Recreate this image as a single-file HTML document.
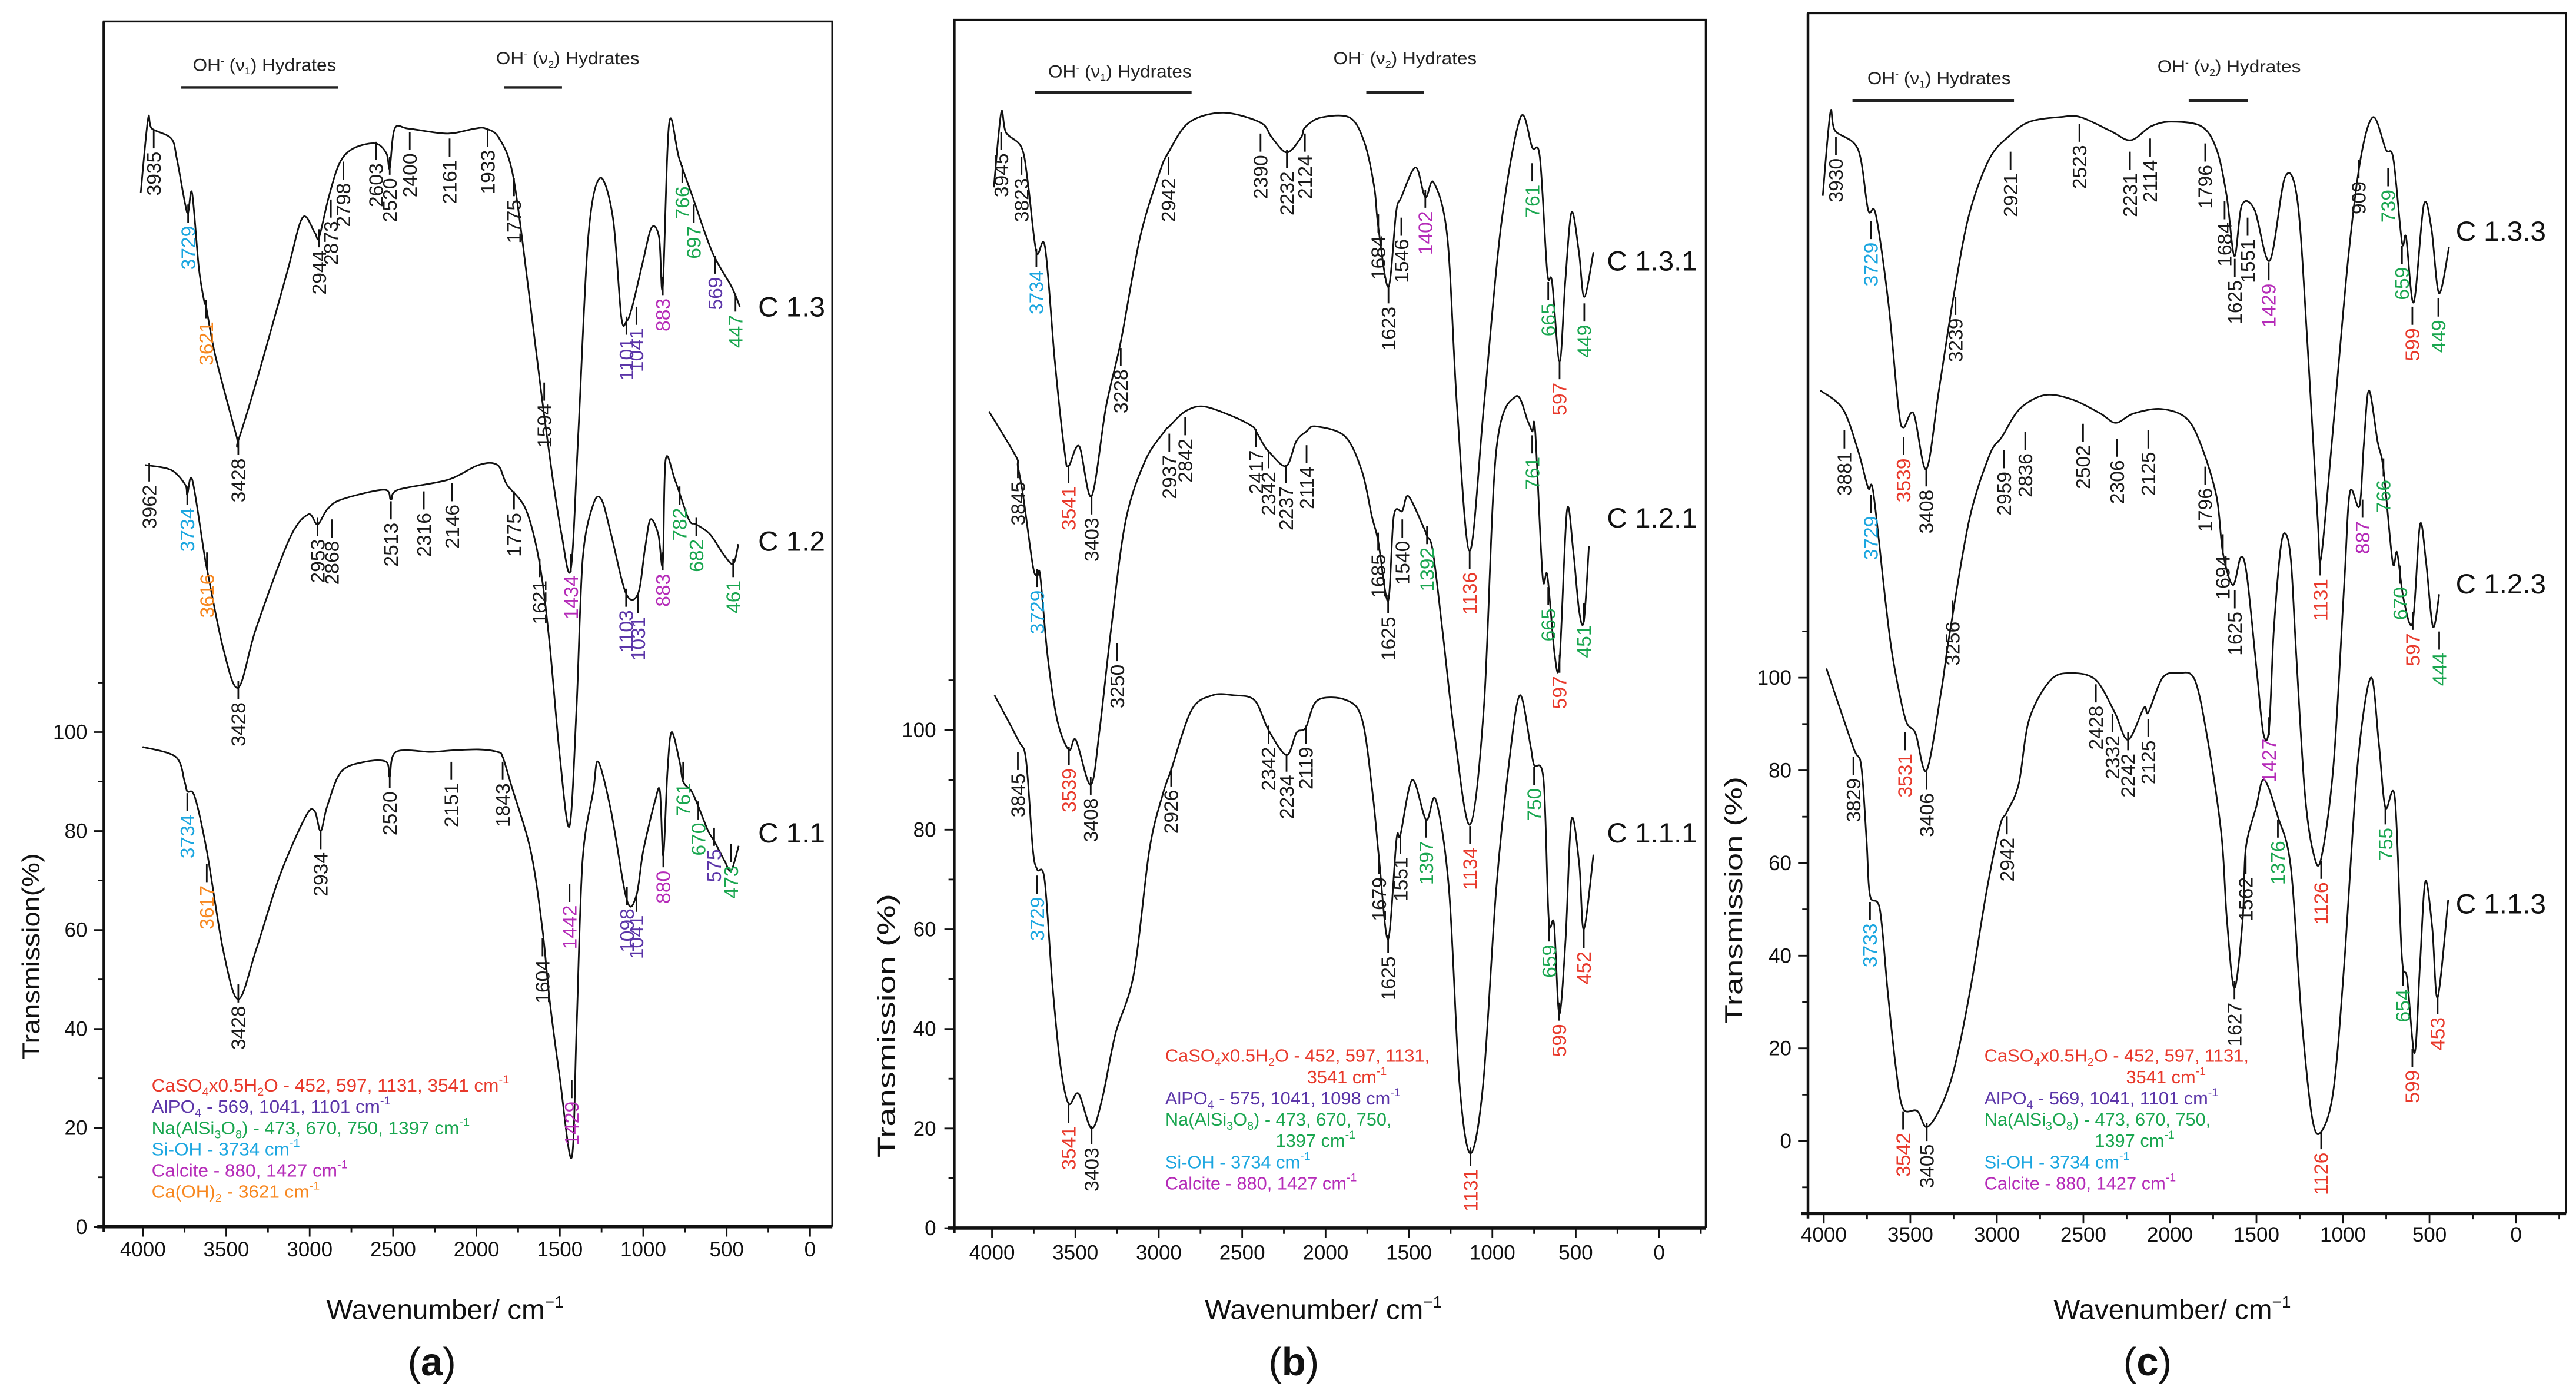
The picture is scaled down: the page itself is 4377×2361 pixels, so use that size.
<!DOCTYPE html>
<html><head><meta charset="utf-8"><title>FTIR spectra</title>
<style>
html,body{margin:0;padding:0;background:#fff;}
svg{display:block;}
text{font-family:"Liberation Sans",sans-serif;}
</style></head>
<body>
<svg id="fig" xmlns="http://www.w3.org/2000/svg" width="4377" height="2361" viewBox="0 0 1563 843" preserveAspectRatio="none"></svg>
<script>
// ---------- data (wavenumber cm-1, transmission %) ----------
const wnA13=[4013,3969,3946,3830,3797,3748,3729,3705,3665,3632,3621,3565,3440,3428,3301,3135,3043,2970,2944,2887,2821,2738,2606,2540,2520,2490,2407,2175,2011,1944,1863,1778,1679,1613,1546,1490,1434,1390,1330,1260,1182,1132,1101,1066,1003,950,905,883,845,785,702,586,470,421];
const tA13=[209,224,222,220,216,207,205,209,194,187,186,176,160,159,173,193,204,201,200,208,215,218,219,217,214,222,222,221,222,222,220,212,187,169,152,140,133,160,200,212,204,184,183,186,195,202,200,190,223,216,208,197,190,186];
const wnA12=[3987,3831,3746,3734,3704,3632,3616,3519,3428,3321,3122,3009,2953,2895,2811,2554,2513,2469,2172,1987,1874,1817,1704,1621,1562,1500,1442,1400,1363,1300,1250,1193,1103,1031,990,957,910,883,866,810,727,682,600,520,461,430];
const tA12=[154,153,150,148,151,136,133,117,109,121,139,144,142,145,147,149,147,149,151,154,154,150,145,134,118,95,81,105,135,146,147,140,128,128,137,143,140,134,155,151,143,142,140,136,134,138];
const wnA11=[4002,3803,3750,3734,3690,3617,3519,3428,3321,3179,3023,2970,2934,2895,2811,2668,2541,2520,2483,2271,2151,1987,1874,1843,1789,1675,1604,1562,1500,1429,1400,1364,1300,1270,1193,1098,1041,1000,930,900,880,855,830,782,761,710,670,611,575,513,473,428];
const tA11=[97,95,90,88,87,76,56,46,56,71,83,84,80,85,92,94,94,91,96,96,96.3,96.5,96,95,89,76,60,46,30,14,40,74,88,94,84,66,67,76,86,88,75,92,100,94,90,88,85,80,78,74,72,77];
const wnB131=[3989,3945,3916,3823,3785,3734,3682,3623,3565,3541,3477,3403,3316,3228,3112,2995,2942,2820,2615,2390,2322,2232,2147,2124,2030,1855,1767,1708,1684,1623,1577,1546,1460,1402,1352,1270,1212,1136,1051,949,832,761,715,671,642,597,563,525,481,449,394];
const tB131=[209,224,220,217,210,196,197,174,156,153,157,147,165,178,199,212,216,222,224,222,219,216,219,221,223,223,218,209,201,189,204,207,213,207,210,199,165,136,165,201,223,217,215,192,190,174,190,204,196,187,196];
const wnB121=[4018,3857,3845,3813,3755,3729,3711,3667,3609,3539,3497,3408,3355,3287,3199,3083,2966,2937,2842,2732,2556,2439,2417,2366,2342,2237,2176,2114,2059,1884,1782,1723,1685,1625,1591,1540,1504,1416,1392,1357,1299,1230,1134,1050,977,860,787,761,743,699,670,626,597,553,515,480,451,421];
const tB121=[164,155,153,147,133,131,131,115,102,96,98,89,100,120,142,154,160,161,164,165,163,161,160,157,156,153,158,160,161,159,152,143,138,126,143,144,147,141,139,136,120,100,81,105,156,167,162,160,160,131,131,115,114,144,136,124,122,137];
const wnB111=[3985,3843,3796,3755,3729,3685,3638,3591,3541,3481,3403,3339,3260,3150,3056,2977,2926,2804,2678,2552,2426,2342,2234,2174,2119,2048,1874,1780,1717,1679,1625,1575,1551,1480,1397,1339,1260,1197,1131,1055,977,898,835,772,750,693,662,630,599,561,526,479,452,394];
const tB111=[107,98,94,76,72,70,49,33,25,27,20,26,39,51,76,87,92,104,107,107,106,100,95,99.5,100.5,106,106,102,87,74,58,78,79,90,82,86,68,29,15,29,68,94,107,97,93,90,62,61,43,58,82,73,60,75];
const wnC133=[4006,3962,3934,3802,3744,3700,3627,3568,3539,3481,3408,3335,3247,3160,3043,2926,2810,2635,2518,2343,2226,2109,1993,1818,1730,1672,1627,1584,1511,1423,1335,1263,1205,1146,1126,1059,971,898,825,752,709,659,635,591,533,489,445,387];
const tC133=[204,222,218,214,201,200,181,158,154,157,145,162,183,200,212,217,220,221,221,218,216,219,220,219,214,204,191,202,201,190,208,203,172,134,126,153,190,212,221,214,212,194,195,181,202,197,183,193];
const wnC123=[4020,3890,3802,3744,3714,3642,3600,3528,3470,3406,3322,3275,3160,3043,2970,2868,2722,2561,2401,2313,2211,2051,1905,1818,1730,1694,1636,1590,1555,1497,1460,1427,1400,1360,1330,1300,1270,1220,1170,1126,1055,993,960,905,880,850,800,766,713,687,650,597,555,520,480,444];
const tC123=[162,158,149,141,140,116,104,91,88,80,97,109,134,148,152,158,161,160,157,155,157,158,156,150,139,127,120,126,122,101,88,89,110,128,131,125,105,75,62,61,81,120,140,137,150,162,151,145,125,127,117,112,133,125,111,118];
const wnC113=[3985,3830,3784,3753,3733,3676,3630,3584,3542,3460,3405,3322,3244,3152,3059,2982,2942,2874,2813,2689,2566,2428,2319,2242,2150,2125,2042,1949,1856,1779,1702,1671,1627,1579,1562,1502,1456,1376,1301,1240,1178,1126,1055,993,916,839,793,755,700,660,629,586,555,524,484,453,392];
const tC113=[102,85,81,65,53,50,32,16,7,6.5,3,7.5,16,33,54,68,71,77,91,99.5,101,99.5,92.5,86.6,93.5,92.5,100,101,99.5,86,66,48,33,48,63,72,78,70,59,27,5,2,11,38,81,100,86,72,74,40,35,19,38,56,46,31,52];
const xTickVals=[4000,3500,3000,2500,2000,1500,1000,500,0];
const yTickVals=[0,20,40,60,80,100];

// peak labels: [text, wavenumber, labelTopY, colorKey]
const labA=[["3935",3935,92,"k"],["3729",3729,137,"c"],["3621",3621,195,"o"],["3428",3428,278,"k"],["2944",2944,152,"k"],["2873",2873,134,"k"],["2798",2798,111,"k"],["2603",2603,99,"k"],["2520",2520,108,"k"],["2400",2400,93,"k"],["2161",2161,97,"k"],["1933",1933,91,"k"],["1775",1775,121,"k"],["1594",1594,245,"k"],["1101",1101,205,"p"],["1041",1041,199,"p"],["883",883,181,"m"],["766",766,113,"g"],["697",697,137,"g"],["569",569,168,"p"],["447",447,191,"g"],
["3962",3962,294,"k"],["3734",3734,308,"c"],["3616",3616,348,"o"],["3428",3428,426,"k"],["2953",2953,327,"k"],["2868",2868,328,"k"],["2513",2513,317,"k"],["2316",2316,311,"k"],["2146",2146,306,"k"],["1775",1775,311,"k"],["1621",1621,352,"k"],["1434",1434,349,"m"],["1103",1103,370,"p"],["1031",1031,374,"p"],["883",883,348,"m"],["782",782,308,"g"],["682",682,327,"g"],["461",461,352,"g"],
["3734",3734,494,"c"],["3617",3617,537,"o"],["3428",3428,610,"k"],["2934",2934,517,"k"],["2520",2520,480,"k"],["2151",2151,475,"k"],["1843",1843,475,"k"],["1604",1604,582,"k"],["1442",1442,549,"m"],["1098",1098,551,"p"],["1041",1041,555,"p"],["880",880,528,"m"],["761",761,475,"g"],["670",670,499,"g"],["575",575,515,"p"],["473",473,525,"g"],["1429",1429,668,"m"]];
const labB=[["3945",3945,93,"k"],["3823",3823,108,"k"],["3734",3734,164,"c"],["3541",3541,295,"r"],["3403",3403,314,"k"],["3228",3228,224,"k"],["2942",2942,108,"k"],["2390",2390,94,"k"],["2232",2232,104,"k"],["2124",2124,94,"k"],["1684",1684,143,"k"],["1623",1623,186,"k"],["1546",1546,145,"k"],["1402",1402,128,"m"],["1136",1136,347,"r"],["761",761,112,"g"],["665",665,184,"g"],["597",597,232,"r"],["449",449,197,"g"],
["3845",3845,292,"k"],["3729",3729,358,"c"],["2937",2937,276,"k"],["2842",2842,266,"k"],["2417",2417,273,"k"],["2342",2342,286,"k"],["2237",2237,295,"k"],["2114",2114,283,"k"],["1685",1685,336,"k"],["1625",1625,374,"k"],["1540",1540,328,"k"],["1392",1392,332,"g"],["761",761,277,"g"],["665",665,369,"g"],["451",451,379,"g"],["597",597,410,"r"],["3250",3250,403,"k"],["3539",3539,466,"r"],["3408",3408,484,"k"],
["3845",3845,469,"k"],["3729",3729,544,"c"],["3541",3541,683,"r"],["3403",3403,696,"k"],["2926",2926,479,"k"],["2342",2342,453,"k"],["2234",2234,470,"k"],["2119",2119,453,"k"],["1679",1679,532,"k"],["1625",1625,580,"k"],["1551",1551,520,"k"],["1397",1397,510,"g"],["1134",1134,514,"r"],["1131",1131,709,"r"],["750",750,478,"g"],["659",659,573,"g"],["599",599,621,"r"],["452",452,577,"r"]];
const labC=[["3930",3930,96,"k"],["3729",3729,147,"c"],["3539",3539,278,"r"],["3408",3408,297,"k"],["3239",3239,193,"k"],["2921",2921,105,"k"],["2523",2523,88,"k"],["2231",2231,105,"k"],["2114",2114,97,"k"],["1796",1796,100,"k"],["1684",1684,135,"k"],["1625",1625,170,"k"],["1551",1551,145,"k"],["1429",1429,172,"m"],["909",909,110,"k"],["739",739,115,"g"],["659",659,162,"g"],["599",599,199,"r"],["449",449,194,"g"],
["3881",3881,274,"k"],["3729",3729,313,"c"],["2959",2959,286,"k"],["2836",2836,275,"k"],["2502",2502,270,"k"],["2306",2306,279,"k"],["2125",2125,274,"k"],["1796",1796,296,"k"],["1694",1694,337,"k"],["1625",1625,371,"k"],["1131",1131,351,"r"],["887",887,316,"m"],["766",766,291,"g"],["670",670,356,"g"],["597",597,384,"r"],["444",444,396,"g"],["3256",3256,377,"k"],["3531",3531,457,"r"],["3406",3406,481,"k"],
["3829",3829,472,"k"],["3733",3733,560,"c"],["3542",3542,687,"r"],["3405",3405,694,"k"],["2942",2942,508,"k"],["2428",2428,428,"k"],["2332",2332,446,"k"],["2242",2242,457,"k"],["2125",2125,449,"k"],["1627",1627,608,"k"],["1562",1562,532,"k"],["1376",1376,510,"g"],["1427",1427,448,"m"],["1126",1126,535,"r"],["1126",1126,699,"r"],["755",755,502,"g"],["654",654,600,"g"],["599",599,649,"r"],["453",453,617,"r"]];

const COL={k:"#1a1a1a",c:"#1ba6e0",o:"#f7871f",r:"#e8392b",p:"#5b35a8",g:"#19a64f",m:"#b52bb8"};
const NS="http://www.w3.org/2000/svg";
const svg=document.getElementById("fig");
function mk(tag,attrs,parent){const e=document.createElementNS(NS,tag);for(const k in attrs)e.setAttribute(k,attrs[k]);(parent||svg).appendChild(e);return e;}

const panels=[
 {id:"a",x0:491.5,kx:0.1012,y0:744,ky:3.0,l:63,t:13,r:505,b:744,ymin:0,ymax:110,series:[[wnA13,tA13,"C 1.3",460,186],[wnA12,tA12,"C 1.2",460,328],[wnA11,tA11,"C 1.1",460,505]],labs:labA,
  ytitle:"Transmission(%)",ytx:19,yty:580,yttl:125,ylabR:53,xlabY:762,xtitleX:270,letter:"(a)",letterX:262,
  hdr:[[117,43,110,205],[301,39,306,341]],hdrLineY:53,legX:92,legY:662,legLen:[217,145,193,90,119,102]},
 {id:"b",x0:1006.7,kx:0.1012,y0:744.8,ky:3.02,l:579,t:12,r:1035,b:744.8,ymin:0,ymax:110,series:[[wnB131,tB131,"C 1.3.1",975,158],[wnB121,tB121,"C 1.2.1",975,314],[wnB111,tB111,"C 1.1.1",975,505]],labs:labB,
  ytitle:"Transmission (%)",ytx:538,yty:622,yttl:160,ylabR:568,xlabY:764,xtitleX:803,letter:"(b)",letterX:785,
  hdr:[[636,47,628,723],[809,39,829,864]],hdrLineY:56,legX:707,legY:644,legLen:null},
 {id:"c",x0:1526.6,kx:0.105,y0:692,ky:2.81,l:1097,t:8,r:1557,b:736,ymin:-15,ymax:110,series:[[wnC133,tC133,"C 1.3.3",1490,140],[wnC123,tC123,"C 1.2.3",1490,354],[wnC113,tC113,"C 1.1.3",1490,548]],labs:labC,
  ytitle:"Transmission (%)",ytx:1052,yty:546,yttl:150,ylabR:1087,xlabY:753,xtitleX:1318,letter:"(c)",letterX:1303,
  hdr:[[1133,51,1124,1222],[1309,44,1328,1364]],hdrLineY:61,legX:1204,legY:644,legLen:null}
];

const legendSets={
 a:[["r",[["CaSO"],["4","sub"],["x0.5H"],["2","sub"],["O - 452, 597, 1131, 3541 cm"],["-1","sup"]],0],
    ["p",[["AlPO"],["4","sub"],[" - 569, 1041, 1101 cm"],["-1","sup"]],0],
    ["g",[["Na(AlSi"],["3","sub"],["O"],["8","sub"],[") - 473, 670, 750, 1397 cm"],["-1","sup"]],0],
    ["c",[["Si-OH - 3734 cm"],["-1","sup"]],0],
    ["m",[["Calcite - 880, 1427 cm"],["-1","sup"]],0],
    ["o",[["Ca(OH)"],["2","sub"],[" - 3621 cm"],["-1","sup"]],0]],
 b:[["r",[["CaSO"],["4","sub"],["x0.5H"],["2","sub"],["O - 452, 597, 1131,"]],0],
    ["r",[["3541 cm"],["-1","sup"]],86],
    ["p",[["AlPO"],["4","sub"],[" - 575, 1041, 1098 cm"],["-1","sup"]],0],
    ["g",[["Na(AlSi"],["3","sub"],["O"],["8","sub"],[") - 473, 670, 750,"]],0],
    ["g",[["1397 cm"],["-1","sup"]],67],
    ["c",[["Si-OH - 3734 cm"],["-1","sup"]],0],
    ["m",[["Calcite - 880, 1427 cm"],["-1","sup"]],0]],
 c:[["r",[["CaSO"],["4","sub"],["x0.5H"],["2","sub"],["O - 452, 597, 1131,"]],0],
    ["r",[["3541 cm"],["-1","sup"]],86],
    ["p",[["AlPO"],["4","sub"],[" - 569, 1041, 1101 cm"],["-1","sup"]],0],
    ["g",[["Na(AlSi"],["3","sub"],["O"],["8","sub"],[") - 473, 670, 750,"]],0],
    ["g",[["1397 cm"],["-1","sup"]],67],
    ["c",[["Si-OH - 3734 cm"],["-1","sup"]],0],
    ["m",[["Calcite - 880, 1427 cm"],["-1","sup"]],0]]
};

function smoothPath(pts){
 let d="M"+pts[0][0].toFixed(2)+","+pts[0][1].toFixed(2);
 for(let i=0;i<pts.length-1;i++){
  const p0=pts[Math.max(0,i-1)],p1=pts[i],p2=pts[i+1],p3=pts[Math.min(pts.length-1,i+2)];
  const t=0.16;
  const c1x=p1[0]+(p2[0]-p0[0])*t,c1y=p1[1]+(p2[1]-p0[1])*t;
  const c2x=p2[0]-(p3[0]-p1[0])*t,c2y=p2[1]-(p3[1]-p1[1])*t;
  d+="C"+c1x.toFixed(2)+","+c1y.toFixed(2)+" "+c2x.toFixed(2)+","+c2y.toFixed(2)+" "+p2[0].toFixed(2)+","+p2[1].toFixed(2);
 }
 return d;
}

panels.forEach(P=>{
 const xs=w=>P.x0-P.kx*w;
 const ys=t=>P.y0-P.ky*t;
 const g=mk("g",{});
 
 
 const fr=mk("path",{d:`M${P.l},${P.b} L${P.l},${P.t} L${P.r},${P.t} L${P.r},${P.b}`,fill:"none",stroke:"#111","stroke-width":1.2},g);
 
 
 const xa=mk("line",{x1:P.l-4,y1:P.b,x2:P.r,y2:P.b,stroke:"#111","stroke-width":2},g);
 
 
 const ya=mk("line",{x1:P.l,y1:P.t,x2:P.l,y2:P.b+3,stroke:"#111","stroke-width":1.6},g);
 
 
 for(let w=-250;w<=4250;w+=250){const x=xs(w);if(x<P.l-0.5||x>P.r+0.5)continue;const maj=(w%500===0);
  const tk=mk("line",{x1:x,y1:P.b,x2:x,y2:P.b+(maj?6:3.5),stroke:"#111","stroke-width":1},g);
  
  }
 xTickVals.forEach(v=>{const t=mk("text",{x:xs(v),y:P.xlabY,"text-anchor":"middle","font-size":12.5,fill:"#111"},g);t.textContent=String(v);
  
  });
 for(let v=Math.ceil(P.ymin/10)*10;v<=P.ymax;v+=10){const y=ys(v);const maj=(v%20===0&&v>=0&&v<=100);
  const tk=mk("line",{x1:P.l-(maj?6:3.5),y1:y,x2:P.l,y2:y,stroke:"#111","stroke-width":1},g);
  
  }
 yTickVals.forEach(v=>{const t=mk("text",{x:P.ylabR,y:ys(v)+4.3,"text-anchor":"end","font-size":12.5,fill:"#111"},g);t.textContent=String(v);
  
  });
 const yt=mk("text",{transform:`translate(${P.ytx+5},${P.yty}) rotate(-90)`,"text-anchor":"middle","font-size":15,fill:"#111",textLength:P.yttl,lengthAdjust:"spacingAndGlyphs"},g);yt.textContent=P.ytitle;
 
 
 const xt=mk("text",{x:P.xtitleX,y:800,"text-anchor":"middle","font-size":17,fill:"#111"},g);
 
 
 xt.appendChild(document.createTextNode("Wavenumber/ cm"));
 const sp=mk("tspan",{"font-size":10,dy:-7},xt);sp.textContent="−1";
 const lt=mk("text",{x:P.letterX,y:834,"text-anchor":"middle","font-size":24,fill:"#111","font-family":"Liberation Serif, serif"},g);
 
 
 lt.appendChild(document.createTextNode("("));
 const lb=mk("tspan",{"font-weight":"bold"},lt);lb.textContent=P.letter.slice(1,2);
 lt.appendChild(document.createTextNode(")"));
 P.hdr.forEach((h,i)=>{const t=mk("text",{x:h[0],y:h[1],"font-size":10.5,fill:"#222",textLength:87,lengthAdjust:"spacingAndGlyphs"},g);
  
  
  t.appendChild(document.createTextNode("OH"));
  const s1=mk("tspan",{"font-size":6,dy:-4},t);s1.textContent="-";
  const s2=mk("tspan",{dy:4},t);s2.textContent=" (ν";
  const s3=mk("tspan",{"font-size":6,dy:2},t);s3.textContent=String(i+1);
  const s4=mk("tspan",{dy:-2},t);s4.textContent=") Hydrates";
  const ln=mk("line",{x1:h[2],y1:P.hdrLineY,x2:h[3],y2:P.hdrLineY,stroke:"#222","stroke-width":1.6},g);
  
  });
 P.series.forEach(s=>{const wn=s[0],tv=s[1];const n=Math.min(wn.length,tv.length);
  const pts=[];for(let i=0;i<n;i++)pts.push([xs(wn[i]),ys(tv[i])]);
  const p=mk("path",{d:smoothPath(pts),fill:"none",stroke:"#111","stroke-width":1,"stroke-linejoin":"round"},g);
  
  
  const nm=mk("text",{x:s[3],y:s[4]+6,"font-size":17,fill:"#111"},g);nm.textContent=s[2];
  
  });
 P.labs.forEach(L=>{const x=xs(L[1]);const top=L[2];
  const tk=mk("line",{x1:x,y1:top-13,x2:x,y2:top-2,stroke:"#111","stroke-width":1},g);
  
  
  const t=mk("text",{transform:`translate(${(x+4.2).toFixed(2)},${top}) rotate(-90)`,"text-anchor":"end","font-size":12,fill:COL[L[3]]},g);t.textContent=L[0];
  
  });
 const lg=mk("g",{},g);
 
 
 legendSets[P.id].forEach((row,i)=>{const t=mk("text",{x:P.legX+row[2],y:P.legY+i*12.9,"font-size":11,fill:COL[row[0]]},lg);
  
  
  let off=0;
  row[1].forEach(seg=>{
   let target=0,fs=11;
   if(seg[1]==="sub"){target=2.5;fs=7;}
   else if(seg[1]==="sup"){target=-5;fs=7;}
   const s=mk("tspan",{"font-size":fs,dy:(target-off)},t);s.textContent=seg[0];
   off=target;});
  if(P.legLen){t.setAttribute("textLength",P.legLen[i]);t.setAttribute("lengthAdjust","spacingAndGlyphs");}
 });
});
</script>
</body></html>
